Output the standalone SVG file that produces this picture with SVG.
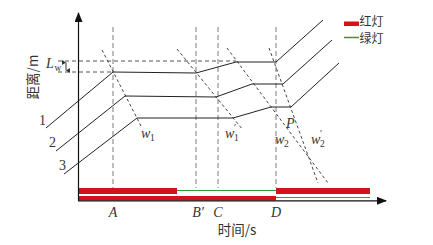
<svg xmlns="http://www.w3.org/2000/svg" width="433" height="245" viewBox="0 0 433 245">
<style>
.cn{font-family:"Noto Sans CJK SC",sans-serif;font-size:13.5px;fill:#333}
.lg{font-family:"Noto Sans CJK SC",sans-serif;font-size:12px;fill:#333}
.it{font-family:"Liberation Serif",serif;font-style:italic;font-size:14px;fill:#333}
.num{font-family:"Liberation Serif",serif;font-size:14px;fill:#333}
.sub{font-family:"Liberation Serif",serif;font-size:9.5px;fill:#333}
.traj{fill:none;stroke:#222;stroke-width:1}
.vdash{fill:none;stroke:#999;stroke-width:1.3;stroke-dasharray:5,3}
.hdash{fill:none;stroke:#555;stroke-width:1;stroke-dasharray:4,3}
.wave{fill:none;stroke:#444;stroke-width:1;stroke-dasharray:3,2.5}
.axis{fill:none;stroke:#111;stroke-width:1.2}
.red{fill:#d8101c}
.green{stroke:#2e9a44;stroke-width:1.2}
</style>
<defs>
<marker id="arr" markerWidth="10" markerHeight="8" refX="9" refY="4" orient="auto" markerUnits="userSpaceOnUse">
<path d="M0,0 L10,4 L0,8 Z" fill="#111"/>
</marker>
<marker id="tick" markerWidth="5" markerHeight="5" refX="2.5" refY="4" orient="auto-start-reverse" markerUnits="userSpaceOnUse">
<path d="M0,0 L2.5,4 L5,0 Z" fill="#333"/>
</marker>
</defs>

<g id="signal-bars">
<rect class="red" x="79" y="188" width="98" height="6"/>
<line class="green" x1="177" y1="190.5" x2="276" y2="190.5"/>
<rect class="red" x="276" y="188" width="94" height="6"/>
<rect class="red" x="79" y="196" width="197" height="4.5"/>
<line class="green" x1="276" y1="197.5" x2="370" y2="197.5"/>
</g>

<g id="axes">
<line class="axis" x1="78.5" y1="201" x2="78.5" y2="13" marker-end="url(#arr)"/>
<line class="axis" x1="78" y1="200.8" x2="386" y2="200.8" marker-end="url(#arr)"/>
</g>

<g id="connectors">
<g id="reference-lines">
<line class="vdash" x1="113" y1="27" x2="113" y2="188"/>
<line class="vdash" x1="196" y1="27" x2="196" y2="188"/>
<line class="vdash" x1="218" y1="27" x2="218" y2="188"/>
<line class="vdash" x1="276" y1="27" x2="276" y2="188"/>
<line class="hdash" x1="58" y1="61" x2="236" y2="61"/>
<line class="hdash" x1="58" y1="72" x2="113" y2="72"/>
<line x1="66" y1="62.5" x2="66" y2="70.5" stroke="#333" stroke-width="1" marker-start="url(#tick)" marker-end="url(#tick)"/>
</g>
<g id="waves">
<line class="wave" x1="102" y1="50" x2="141" y2="126"/>
<line class="wave" x1="177" y1="49" x2="243" y2="130"/>
<line class="wave" x1="227" y1="48" x2="328" y2="183"/>
<line class="wave" x1="269" y1="48" x2="318" y2="183"/>
</g>
</g>

<g id="vehicle-1"><polyline class="traj" points="46,128 113,72 196,73 236,62 276,62 323,20"/><text class="num" x="39" y="125">1</text></g>
<g id="vehicle-2"><polyline class="traj" points="56,151 125,96 216,97 252,84 283,84 332,40"/><text class="num" x="49" y="147">2</text></g>
<g id="vehicle-3"><polyline class="traj" points="64,174 137,118 233,118 271,107 291,107 339,63"/><text class="num" x="59" y="170">3</text></g>

<g id="labels">
<text class="it" x="46" y="68">L</text><text class="sub" x="54.5" y="70.5">w</text>
<text class="cn" transform="translate(38,77) rotate(-90)" text-anchor="middle">距离/m</text>
<text class="cn" x="237" y="235" text-anchor="middle">时间/s</text>
<text class="it" x="113" y="217" text-anchor="middle">A</text>
<text class="it" x="198" y="217" text-anchor="middle">B′</text>
<text class="it" x="218" y="217" text-anchor="middle">C</text>
<text class="it" x="276" y="217" text-anchor="middle">D</text>
<text class="it" x="141" y="138">w</text><text class="sub" x="150" y="141">1</text>
<text class="it" x="225" y="138">w</text><text class="sub" x="234" y="141">1</text><text class="sub" x="234" y="131">′</text>
<text class="it" x="286" y="128">P</text>
<text class="it" x="275" y="144">w</text><text class="sub" x="284" y="147">2</text>
<text class="it" x="311" y="144">w</text><text class="sub" x="320" y="147">2</text><text class="sub" x="320" y="137">′</text>
</g>

<g id="legend">
<rect class="red" x="344" y="21.5" width="15" height="4.5"/>
<text class="lg" x="359.5" y="25.5">红灯</text>
<line class="green" x1="344" y1="37.5" x2="359" y2="37.5" style="stroke-width:1.5"/>
<text class="lg" x="359.5" y="42.5">绿灯</text>
</g>
</svg>
